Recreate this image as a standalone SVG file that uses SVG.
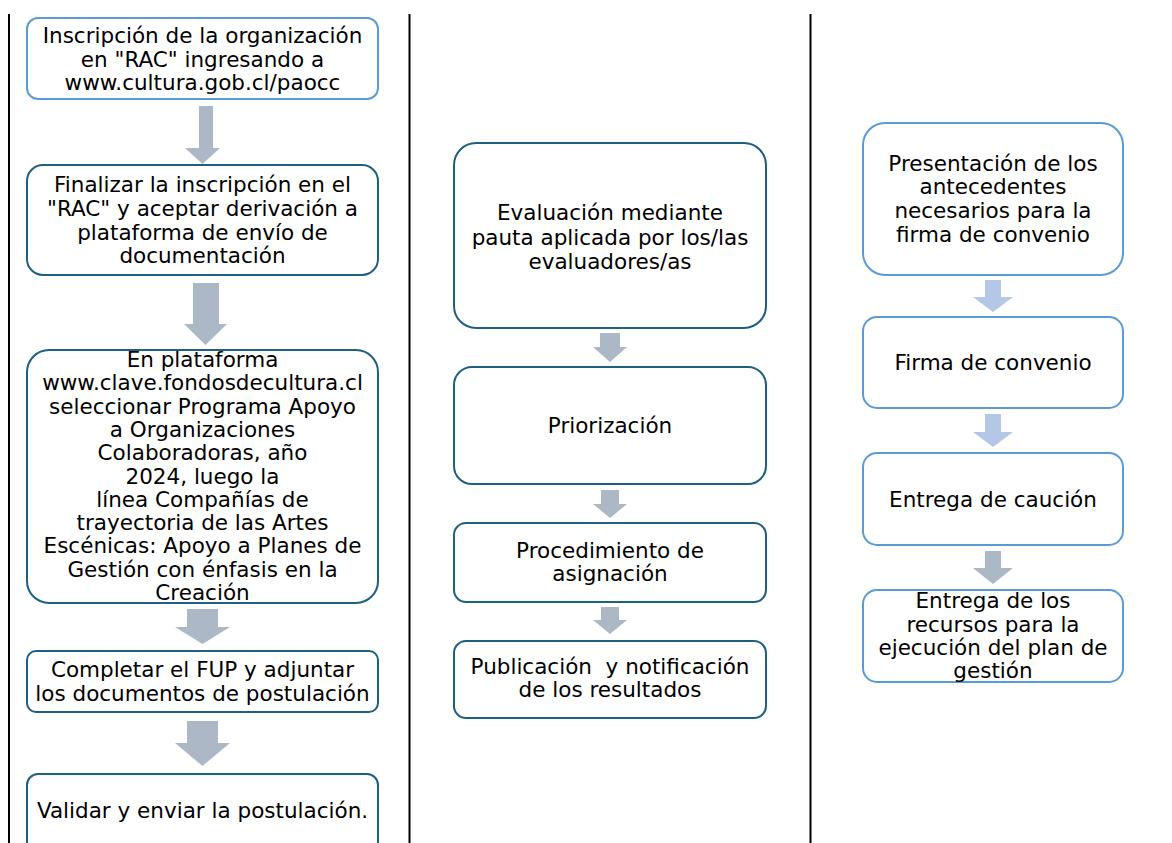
<svg xmlns="http://www.w3.org/2000/svg" width="1172" height="843" viewBox="0 0 1172 843">
<style>
text{font-family:"DejaVu Sans",Verdana,sans-serif;font-size:21.5px;fill:#000;text-anchor:middle}
.lb{fill:#fff;stroke:#5B9BD5;stroke-width:2}
.db{fill:#fff;stroke:#1F5F82;stroke-width:2}
.ga{fill:#ADB8C6}
.la{fill:#B4C7E7}
.sep{stroke:#000;stroke-width:2}
</style>
<rect width="1172" height="843" fill="#fff"/>
<g id="separators">
<line class="sep" x1="9" y1="14" x2="9" y2="843"/>
<line class="sep" x1="409.5" y1="14" x2="409.5" y2="843"/>
<line class="sep" x1="810.5" y1="14" x2="810.5" y2="843"/>
</g>
<g id="connectors">
<polygon class="ga" points="199,106 213,106 213,148 220,148 202.5,164 185,148 199,148"/>
<polygon class="ga" points="193,283 219,283 219,324 227,324 205.5,345 184,324 193,324"/>
<polygon class="ga" points="187,609 218,609 218,627 230,627 202.5,644 175,627 187,627"/>
<polygon class="ga" points="187,721 218,721 218,743 230,743 202.5,766 175,743 187,743"/>
<polygon class="ga" points="600,333 620,333 620,347 627,347 610,362 593,347 600,347"/>
<polygon class="ga" points="601,490 619,490 619,504 627,504 610,518 593,504 601,504"/>
<polygon class="ga" points="601,607 619,607 619,620 627,620 610,634 593,620 601,620"/>
<polygon class="la" points="985,280 1001,280 1001,297 1013,297 993,312 973,297 985,297"/>
<polygon class="la" points="985,414 1001,414 1001,432 1013,432 993,447 973,432 985,432"/>
<polygon class="ga" points="985,551 1001,551 1001,568 1013,568 993,584 973,568 985,568"/>
</g>
<g id="n1">
<rect class="lb" x="27" y="18" width="351" height="81" rx="11"/>
<text x="202.5" y="43">Inscripción de la organización</text>
<text x="202.5" y="67">en "RAC" ingresando a</text>
<text x="202.5" y="90">www.cultura.gob.cl/paocc</text>
</g>
<g id="n2">
<rect class="db" x="27" y="165" width="351" height="110" rx="16"/>
<text x="202.5" y="192">Finalizar la inscripción en el</text>
<text x="202.5" y="216">"RAC" y aceptar derivación a</text>
<text x="202.5" y="240">plataforma de envío de</text>
<text x="202.5" y="263">documentación</text>
</g>
<g id="n3">
<rect class="db" x="27" y="350" width="351" height="253" rx="22"/>
<text x="202.5" y="367">En plataforma</text>
<text x="202.5" y="390.3">www.clave.fondosdecultura.cl</text>
<text x="202.5" y="413.6">seleccionar Programa Apoyo</text>
<text x="202.5" y="436.9">a Organizaciones</text>
<text x="202.5" y="460.2">Colaboradoras, año</text>
<text x="202.5" y="483.5">2024, luego la</text>
<text x="202.5" y="506.8">línea Compañías de</text>
<text x="202.5" y="530.1">trayectoria de las Artes</text>
<text x="202.5" y="553.4">Escénicas: Apoyo a Planes de</text>
<text x="202.5" y="576.7">Gestión con énfasis en la</text>
<text x="202.5" y="600">Creación</text>
</g>
<g id="n4">
<rect class="db" x="27" y="651" width="351" height="61" rx="9"/>
<text x="202.5" y="677">Completar el FUP y adjuntar</text>
<text x="202.5" y="701">los documentos de postulación</text>
</g>
<g id="n5">
<rect class="db" x="27" y="774" width="351" height="90" rx="11"/>
<text x="202.5" y="818">Validar y enviar la postulación.</text>
</g>
<g id="m1">
<rect class="db" x="454" y="143" width="312" height="185" rx="22"/>
<text x="610" y="220">Evaluación mediante</text>
<text x="610" y="245">pauta aplicada por los/las</text>
<text x="610" y="269">evaluadores/as</text>
</g>
<g id="m2">
<rect class="db" x="454" y="367" width="312" height="117" rx="18"/>
<text x="610" y="433">Priorización</text>
</g>
<g id="m3">
<rect class="db" x="454" y="523" width="312" height="79" rx="12"/>
<text x="610" y="558">Procedimiento de</text>
<text x="610" y="581">asignación</text>
</g>
<g id="m4">
<rect class="db" x="454" y="641" width="312" height="77" rx="12"/>
<text x="610" y="674" xml:space="preserve">Publicación  y notificación</text>
<text x="610" y="697">de los resultados</text>
</g>
<g id="r1">
<rect class="lb" x="863" y="123" width="260" height="152" rx="22"/>
<text x="993" y="171">Presentación de los</text>
<text x="993" y="194">antecedentes</text>
<text x="993" y="218">necesarios para la</text>
<text x="993" y="242">firma de convenio</text>
</g>
<g id="r2">
<rect class="lb" x="863" y="317" width="260" height="91" rx="14"/>
<text x="993" y="370">Firma de convenio</text>
</g>
<g id="r3">
<rect class="lb" x="863" y="453" width="260" height="92" rx="14"/>
<text x="993" y="507">Entrega de caución</text>
</g>
<g id="r4">
<rect class="lb" x="863" y="590" width="260" height="92" rx="14"/>
<text x="993" y="608">Entrega de los</text>
<text x="993" y="632">recursos para la</text>
<text x="993" y="655">ejecución del plan de</text>
<text x="993" y="678">gestión</text>
</g>
</svg>
